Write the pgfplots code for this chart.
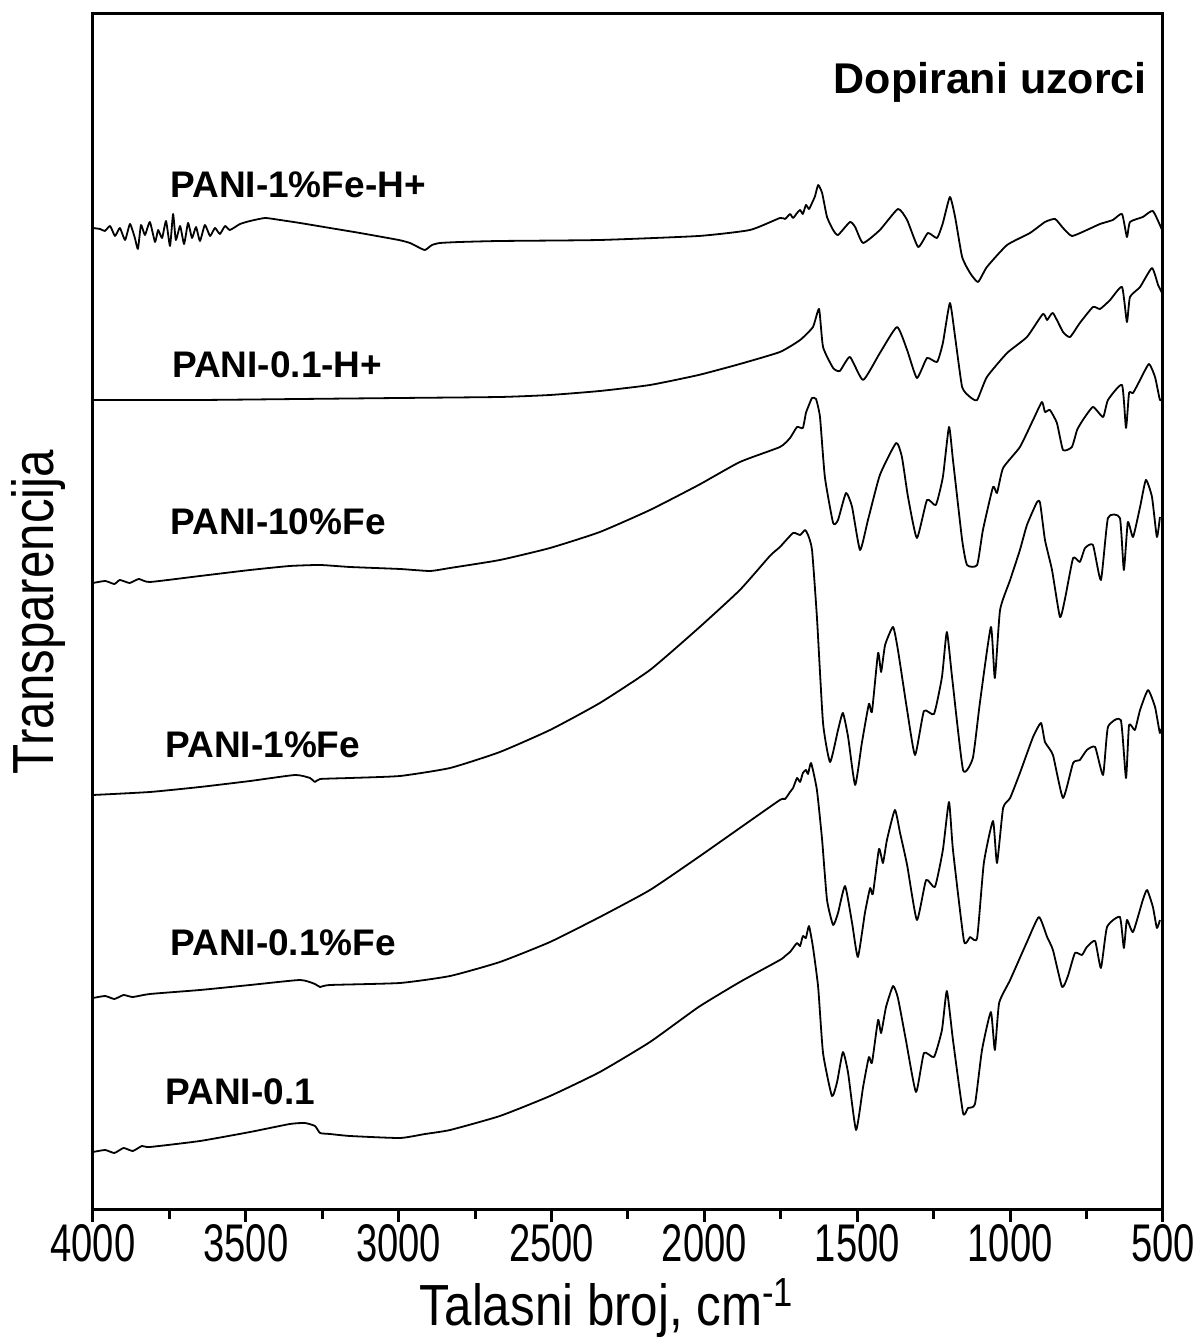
\documentclass[border=0pt]{standalone}
\usepackage{fontspec}
\setmainfont{Liberation Sans}
\newfontfamily\narrowfont[FakeStretch=0.72]{Liberation Sans}
\newfontfamily\labelfont[FakeStretch=0.85]{Liberation Sans}
\usepackage{pgfplots}
\pgfplotsset{compat=1.18}
\begin{document}
\begin{tikzpicture}
\path[use as bounding box] (-46.5pt,-64pt) rectangle (551.5pt,605pt);
\begin{axis}[
  at={(0pt,0pt)}, anchor=south west,
  scale only axis, width=535pt, height=598pt,
  xmin=500, xmax=4000, x dir=reverse,
  ymin=0, ymax=1196,
  xtick={500,1000,...,4000}, minor x tick num=1,
  xtick pos=left, tick align=outside,
  ytick=\empty,
  major tick length=6pt, minor tick length=4.5pt,
  axis line style={line width=1.5pt},
  every tick/.style={line width=1.5pt, black},
  every minor tick/.style={line width=1.5pt, black},
  /pgf/number format/assume math mode=true,
  /pgf/number format/1000 sep={},
  xticklabel style={font=\narrowfont\fontsize{26.5}{26.5}\selectfont, inner sep=1pt},
  spec/.style={black, solid, line width=0.9pt, mark=none, line join=round, smooth, tension=0.3},
]
% PANI-1%Fe-H+
\addplot[spec] table {
4000 982
3977 981
3961 979
3944 984
3928 974
3912 982
3895 970
3879 986
3863 972
3853 961
3843 985
3830 975
3814 988
3797 968
3787 980
3774 972
3761 989
3748 964
3738 996
3729 970
3715 984
3702 966
3689 987
3676 972
3663 983
3650 969
3634 985
3617 974
3601 982
3585 976
3568 984
3552 980
3519 986
3486 989
3437 992
3388 990
3323 987
3225 982
3127 977
3000 970
2963 967
2937 963
2914 960
2891 965
2865 967
2800 968
2669 969
2342 970
2019 974
1851 980
1753 992
1736 991
1720 996
1710 992
1697 997
1687 1000
1678 996
1668 1005
1658 1001
1648 1007
1638 1014
1628 1025
1615 1017
1599 993
1579 980
1563 975
1524 988
1507 983
1481 967
1426 980
1367 1001
1337 990
1301 963
1269 977
1239 972
1220 987
1197 1013
1180 993
1157 953
1131 937
1105 928
1076 943
1010 965
935 977
886 988
853 991
827 982
798 974
749 980
706 986
664 990
634 996
618 973
608 988
566 993
533 999
503 980
};
% PANI-0.1-H+
\addplot[spec] table {
4000 810
3650 810
3323 811
2996 812
2669 813
2505 815
2342 819
2178 825
2019 835
1884 846
1753 858
1687 870
1645 883
1625 901
1612 863
1579 842
1557 839
1524 853
1481 830
1426 857
1370 883
1337 860
1305 832
1272 852
1239 848
1220 867
1197 907
1180 873
1157 823
1131 813
1108 810
1076 833
1010 857
945 873
893 896
879 890
860 897
827 878
804 873
772 887
729 903
706 901
673 910
634 923
618 888
608 913
575 923
536 942
516 925
503 917
};
% PANI-10%Fe
\addplot[spec] table {
4000 627
3960 629
3930 626
3912 630
3880 627
3850 631
3814 628
3650 634
3486 640
3356 644
3257 645
3159 643
2996 641
2898 639
2832 642
2669 650
2505 662
2342 678
2178 700
2019 725
1884 748
1753 763
1720 772
1697 783
1678 782
1668 797
1658 805
1648 812
1635 811
1622 793
1606 733
1579 687
1563 690
1537 717
1517 703
1491 660
1465 690
1426 735
1373 767
1354 753
1334 713
1305 672
1272 710
1243 705
1220 733
1200 783
1187 750
1157 670
1141 645
1108 645
1089 680
1056 723
1043 717
1023 742
968 763
925 790
896 808
886 798
870 800
847 787
827 760
798 763
781 780
762 790
729 803
696 793
680 810
634 825
621 782
611 817
598 817
575 830
546 846
526 833
510 810
500 813
};
% PANI-1%Fe
\addplot[spec] table {
4000 415
3814 418
3650 423
3486 429
3339 435
3290 432
3274 428
3257 431
3159 432
2996 434
2832 442
2669 458
2505 480
2342 507
2178 540
2019 582
1884 620
1786 654
1753 663
1710 677
1687 675
1671 680
1661 675
1648 660
1632 593
1612 487
1589 448
1563 480
1547 497
1530 473
1507 425
1485 467
1462 506
1452 498
1432 557
1422 538
1409 565
1383 583
1367 560
1337 500
1311 455
1282 499
1249 496
1223 533
1207 578
1190 533
1154 440
1122 452
1099 507
1063 583
1050 532
1033 600
1000 630
968 660
945 685
912 708
902 707
886 670
863 640
837 593
820 612
794 652
772 648
755 662
729 665
703 630
680 692
641 692
628 640
615 688
598 673
575 703
556 730
536 713
520 673
510 693
};
% PANI-0.1%Fe
\addplot[spec] table {
4000 212
3960 214
3930 211
3900 215
3870 213
3814 216
3650 220
3486 225
3323 230
3274 226
3257 223
3225 225
2996 227
2832 234
2669 248
2505 268
2342 293
2178 320
2019 353
1884 382
1753 410
1736 411
1720 418
1710 422
1697 432
1687 428
1678 437
1668 440
1661 436
1651 447
1632 420
1615 370
1599 310
1579 285
1563 297
1540 324
1517 287
1498 253
1475 297
1458 322
1449 316
1429 361
1416 347
1403 370
1377 400
1360 377
1337 345
1305 290
1275 330
1246 323
1220 360
1200 408
1187 360
1151 269
1131 273
1108 272
1086 347
1056 389
1043 347
1023 402
1000 412
968 437
925 473
899 487
886 468
860 455
827 412
794 447
772 450
749 460
722 463
696 435
680 483
638 490
621 432
611 485
592 480
575 500
549 520
526 503
510 477
500 487
};
% PANI-0.1
\addplot[spec] table {
4000 58
3960 60
3930 57
3900 62
3870 59
3840 64
3814 63
3650 69
3486 78
3356 86
3307 87
3274 84
3257 77
3225 76
3159 74
2996 72
2914 76
2832 80
2669 94
2505 114
2342 138
2178 168
2019 203
1884 228
1753 250
1736 254
1720 258
1710 262
1697 267
1687 264
1678 274
1668 272
1658 284
1645 263
1628 223
1612 157
1583 114
1566 128
1547 158
1530 137
1504 80
1481 123
1462 153
1452 147
1432 190
1422 177
1406 203
1383 224
1367 212
1341 170
1308 118
1282 157
1249 153
1223 180
1207 219
1187 170
1154 97
1138 102
1115 106
1092 160
1063 198
1050 160
1036 207
1000 230
945 268
906 293
879 273
860 260
830 223
811 234
788 257
765 255
749 263
722 269
703 242
683 283
641 293
628 262
618 290
598 278
566 310
552 320
533 303
520 282
510 290
};
\begin{scope}[every node/.style={inner sep=0pt, font=\bfseries\fontsize{18.5}{18.5}\selectfont}]
\node[anchor=west] at (axis cs:3748,1025) {PANI-1\%Fe-H+};
\node[anchor=west] at (axis cs:3742,845) {PANI-0.1-H+};
\node[anchor=west] at (axis cs:3748,688) {PANI-10\%Fe};
\node[anchor=west] at (axis cs:3764,465) {PANI-1\%Fe};
\node[anchor=west] at (axis cs:3748,267) {PANI-0.1\%Fe};
\node[anchor=west] at (axis cs:3764,118) {PANI-0.1};
\end{scope}
\node[anchor=east, inner sep=0pt, font=\bfseries\fontsize{21.5}{21.5}\selectfont] at (axis cs:552,1128) {Dopirani uzorci};
\end{axis}
\node[rotate=90, anchor=base, inner sep=0pt, font={\labelfont\fontsize{29}{29}\selectfont}] at (-20pt,299pt) {Transparencija};
\node[anchor=base, inner sep=0pt, font={\labelfont\fontsize{29}{29}\selectfont}] at (257pt,-57.5pt) {Talasni broj, cm\textsuperscript{-1}};
\end{tikzpicture}
\end{document}
